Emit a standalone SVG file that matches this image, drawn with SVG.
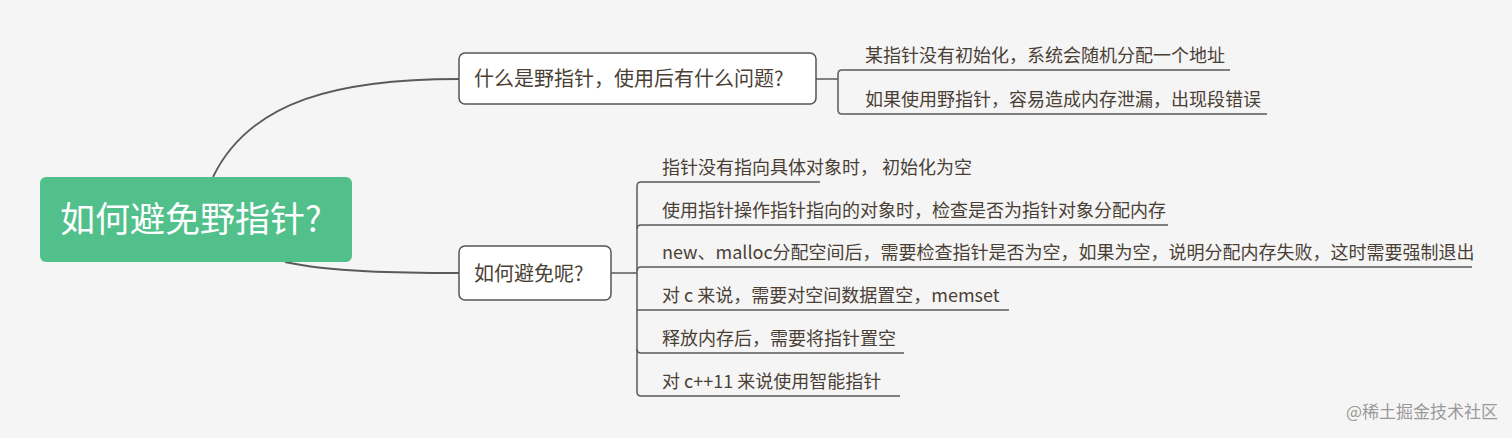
<svg xmlns="http://www.w3.org/2000/svg" width="1512" height="438" viewBox="0 0 1512 438">
<style>
text{font-family:"Noto Sans CJK SC","Noto Sans",sans-serif;fill:#4a3f35;font-size:18px}
.bt{font-size:20px}
.box{fill:#fff;stroke:#555;stroke-width:1.5}
.ln{fill:none;stroke:#5a5a5a;stroke-width:1.8}
.ul{fill:none;stroke:#5a5a5a;stroke-width:1.5}
</style>
<rect width="1512" height="438" fill="#f5f5f5"/>
<g id="connectors">
<path class="ln" d="M213,177 C250,100 340,79 459,79"/>
<path class="ln" d="M285,262 C330,272 400,273 459,273"/>
<path class="ul" d="M816,79 H838"/>
<path class="ul" d="M838,74 Q838,70 842,70 H1230"/>
<path class="ul" d="M838,74 V110 Q838,114 842,114 H1267"/>
<path class="ul" d="M611,273 H637"/>
<path class="ul" d="M637,186 Q637,182 641,182 H820"/>
<path class="ul" d="M637,186 V392 Q637,396 641,396 H900"/>
<path class="ul" d="M637,229 Q637,225 641,225 H1168"/>
<path class="ul" d="M637,271 Q637,267 641,267 H1472"/>
<path class="ul" d="M637,310 H1009"/>
<path class="ul" d="M637,349 Q637,353 641,353 H904"/>
</g>
<g id="root">
<rect x="40" y="177" width="312" height="85" rx="6" fill="#52c08b"/>
<text x="60" y="232" style="fill:#fff;font-size:35px">如何避免野指针?</text>
</g>
<g id="q1">
<rect class="box" x="459" y="53" width="357" height="51" rx="6"/>
<text class="bt" x="474" y="86">什么是野指针，使用后有什么问题?</text>
</g>
<g id="q2">
<rect class="box" x="459" y="246" width="152" height="54" rx="6"/>
<text class="bt" x="474" y="281">如何避免呢?</text>
</g>
<g id="a1"><text x="865" y="62">某指针没有初始化，系统会随机分配一个地址</text></g>
<g id="a2"><text x="865" y="106">如果使用野指针，容易造成内存泄漏，出现段错误</text></g>
<g id="b1"><text x="662" y="174">指针没有指向具体对象时， 初始化为空</text></g>
<g id="b2"><text x="662" y="217">使用指针操作指针指向的对象时，检查是否为指针对象分配内存</text></g>
<g id="b3"><text x="662" y="259">new、malloc分配空间后，需要检查指针是否为空，如果为空，说明分配内存失败，这时需要强制退出</text></g>
<g id="b4"><text x="662" y="302">对 c 来说，需要对空间数据置空，memset</text></g>
<g id="b5"><text x="662" y="345">释放内存后，需要将指针置空</text></g>
<g id="b6"><text x="662" y="388">对 c++11 来说使用智能指针</text></g>
<text x="1498" y="418" text-anchor="end" style="fill:#9a9a9a;font-size:17px">@稀土掘金技术社区</text>
</svg>
